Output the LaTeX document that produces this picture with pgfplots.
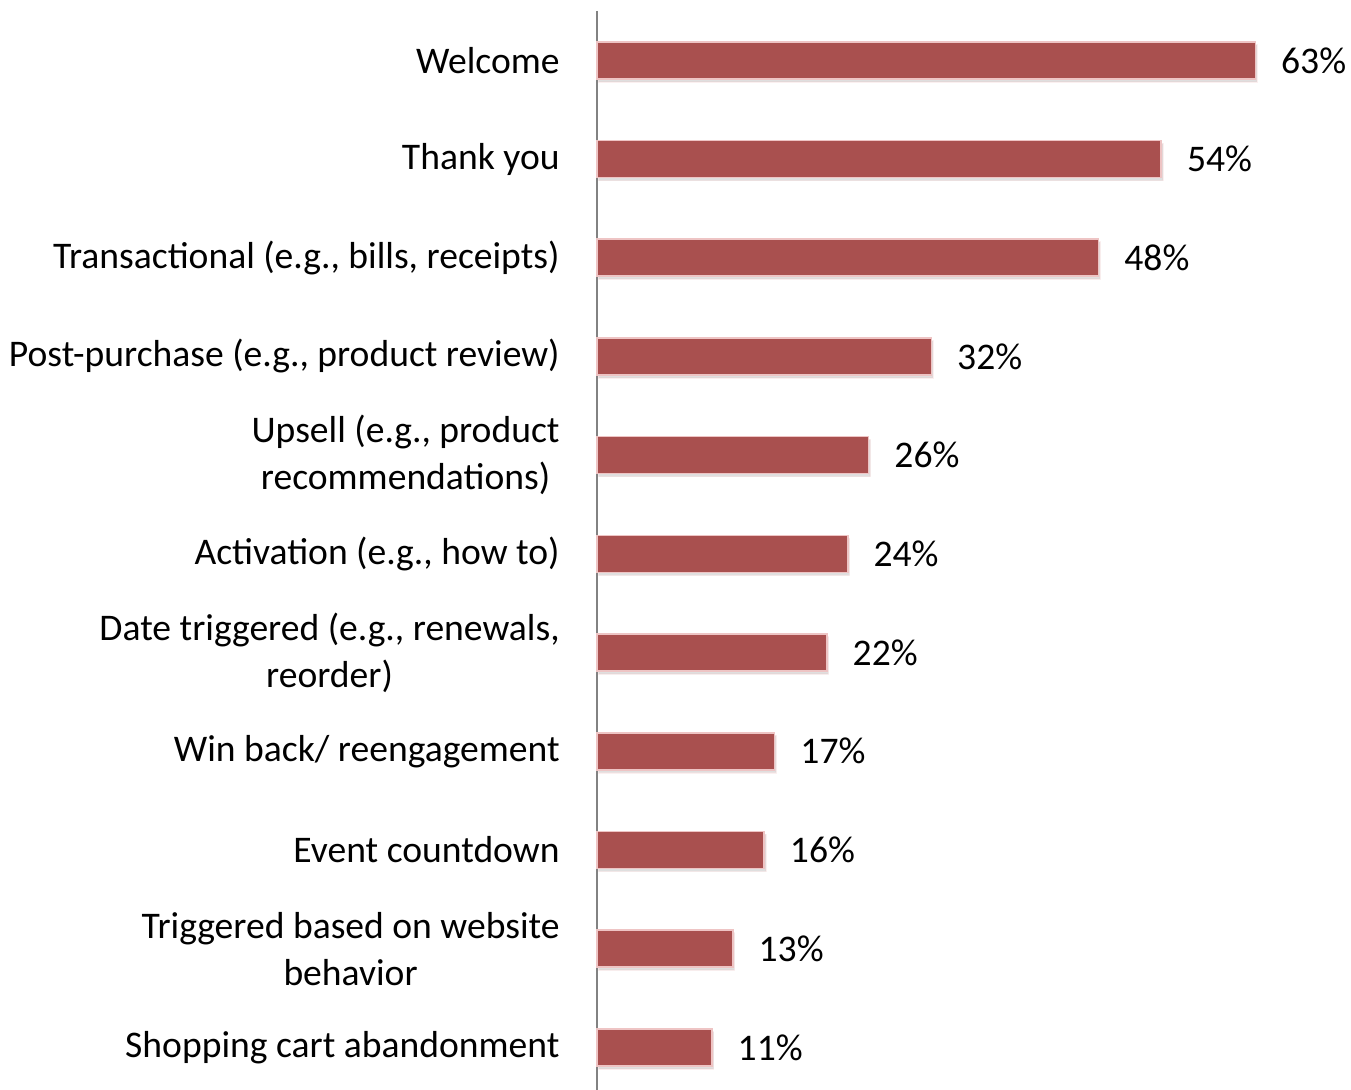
\documentclass[border=0pt]{standalone}
\usepackage{pgfplots}
\pgfplotsset{compat=1.18}
\usepackage{pgfplotstable}
\usepackage{fontspec}
\setmainfont{Carlito}
\usetikzlibrary{shadows}
\definecolor{barred}{RGB}{169,80,79}
\definecolor{baredge}{RGB}{238,196,196}
\definecolor{axisgray}{RGB}{130,130,130}
\pgfplotstableread{
idx v
0 63
1 54
2 48
3 32
4 26
5 24
6 22
7 17
8 16
9 13
10 11
}\data
\newcommand{\lblfont}{\fontsize{18.8}{23.5}\selectfont}
\begin{document}
\begin{tikzpicture}
\begin{axis}[
  at={(298.5pt,-3.35pt)}, anchor=south west,
  scale only axis, width=365.75pt, height=542.85pt,
  xbar, bar width=18.5pt,
  xmin=0, xmax=70, ymin=-0.5, ymax=10.5, y dir=reverse,
  axis x line=none, axis y line*=left,
  y axis line style={draw=axisgray, line width=1pt},
  major tick length=0pt,
  ytick={0,...,10},
  yticklabels={Welcome, Thank you, {Transactional (e.g., bills, receipts)}, {Post-purchase (e.g., product review)}, {Upsell (e.g., product\\recommendations)}, {Activation (e.g., how to)}, {Date triggered (e.g., renewals,\\reorder)}, {Win back/ reengagement}, Event countdown, {Triggered based on website\\behavior}, Shopping cart abandonment},
  yticklabel style={align=center, font=\lblfont, inner sep=0pt, anchor=east, xshift=-18.5pt},
  point meta=x,
  /pgf/number format/assume math mode=true,
  nodes near coords={\pgfmathprintnumber{\pgfplotspointmeta}\%},
  nodes near coords style={anchor=west, inner sep=0pt, xshift=12.5pt, font=\lblfont, text=black},
  clip=false,
]
\addplot[fill=barred, draw=baredge, line width=0.8pt, drop shadow={shadow xshift=0.8pt, shadow yshift=-1.5pt, opacity=0.25}] table[x=v, y=idx]{\data};
\end{axis}
\pgfresetboundingbox
\path (0,0) rectangle (675.5pt,545pt);
\end{tikzpicture}
\end{document}
